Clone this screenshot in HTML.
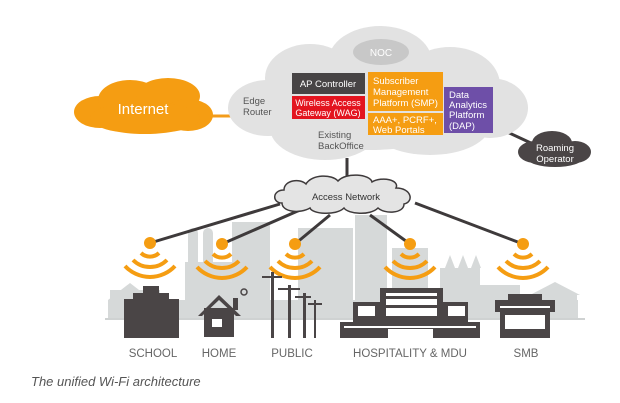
<!DOCTYPE html>
<html><head><meta charset="utf-8"><style>
html,body{margin:0;padding:0;background:#fff;}
svg{display:block;font-family:"Liberation Sans",sans-serif;}
</style></head><body>
<svg width="620" height="403" viewBox="0 0 620 403" xmlns="http://www.w3.org/2000/svg">
<g fill="#d6d9d9">
<rect x="108" y="300" width="470" height="20"/>
<polygon points="108,300 130,283 152,300"/>
<rect x="110" y="290" width="50" height="12"/>
<rect x="185" y="262" width="60" height="40"/>
<rect x="188" y="228" width="10" height="40" rx="5"/>
<rect x="203" y="228" width="10" height="40" rx="5"/>
<rect x="232" y="222" width="38" height="80"/>
<rect x="298" y="228" width="55" height="80"/>
<rect x="355" y="215" width="32" height="90"/>
<rect x="392" y="248" width="36" height="60"/>
<rect x="440" y="268" width="40" height="40"/>
<polygon points="445,268 450,255 455,268"/>
<polygon points="458,268 463,255 468,268"/>
<polygon points="471,268 476,255 481,268"/>
<rect x="480" y="285" width="40" height="20"/>
<polygon points="530,295 555,282 580,295"/>
<rect x="533" y="294" width="44" height="20"/>
</g>
<rect x="105" y="318" width="480" height="2" fill="#cfd2d2"/>

<g stroke="#3e3a3b" stroke-width="3" fill="none">
<line x1="347" y1="158" x2="347" y2="186"/>
<line x1="280" y1="204" x2="150" y2="243"/>
<line x1="300" y1="210" x2="222" y2="244"/>
<line x1="330" y1="215" x2="295" y2="244"/>
<line x1="370" y1="215" x2="410" y2="244"/>
<line x1="415" y1="203" x2="523" y2="244"/>
<line x1="505" y1="131" x2="533" y2="144"/>
</g>
<line x1="205" y1="116" x2="236" y2="116" stroke="#f39c1b" stroke-width="3"/>

<g fill="#f59d12">
<ellipse cx="100" cy="112" rx="26" ry="16"/>
<ellipse cx="130" cy="100" rx="32" ry="20"/>
<ellipse cx="168" cy="96" rx="32" ry="18"/>
<ellipse cx="188" cy="115" rx="25" ry="16"/>
<ellipse cx="145" cy="118" rx="55" ry="16"/>
</g>
<text x="143" y="114" font-size="15" fill="#fff" text-anchor="middle">Internet</text>

<g fill="#e2e2e2">
<ellipse cx="268" cy="108" rx="40" ry="28"/>
<ellipse cx="310" cy="78" rx="45" ry="34"/>
<ellipse cx="380" cy="62" rx="52" ry="36"/>
<ellipse cx="450" cy="85" rx="50" ry="38"/>
<ellipse cx="490" cy="108" rx="38" ry="30"/>
<ellipse cx="325" cy="128" rx="55" ry="32"/>
<ellipse cx="430" cy="125" rx="60" ry="30"/>
<ellipse cx="370" cy="110" rx="100" ry="40"/>
</g>
<ellipse cx="381" cy="52" rx="28" ry="13" fill="#c8c8c8"/>
<text x="381" y="56" font-size="10" fill="#fff" text-anchor="middle">NOC</text>
<g font-size="9.5" fill="#555">
<text x="243" y="104">Edge</text><text x="243" y="115">Router</text>
<text x="318" y="138">Existing</text><text x="318" y="149">BackOffice</text>
</g>
<rect x="292" y="73" width="73" height="21" fill="#474445"/>
<text x="328" y="87" font-size="9.5" fill="#fff" text-anchor="middle">AP Controller</text>
<rect x="292" y="96" width="73" height="23" fill="#e3141f"/>
<text x="328" y="106" font-size="9" fill="#fff" text-anchor="middle">Wireless Access</text>
<text x="328" y="116" font-size="9" fill="#fff" text-anchor="middle">Gateway (WAG)</text>
<rect x="368" y="72" width="75" height="39" fill="#f59d12"/>
<g font-size="9.5" fill="#fff"><text x="373" y="84">Subscriber</text><text x="373" y="95">Management</text><text x="373" y="106">Platform (SMP)</text></g>
<rect x="368" y="113" width="75" height="22" fill="#f59d12"/>
<g font-size="9.5" fill="#fff"><text x="373" y="123">AAA+, PCRF+,</text><text x="373" y="133">Web Portals</text></g>
<rect x="444" y="87" width="49" height="46" fill="#6e4fa8"/>
<g font-size="9.5" fill="#fff"><text x="449" y="98">Data</text><text x="449" y="108">Analytics</text><text x="449" y="118">Platform</text><text x="449" y="129">(DAP)</text></g>

<g fill="#4a4546">
<ellipse cx="535" cy="152" rx="17" ry="11"/>
<ellipse cx="552" cy="143" rx="20" ry="12"/>
<ellipse cx="575" cy="152" rx="16" ry="11"/>
<ellipse cx="555" cy="158" rx="28" ry="9"/>
</g>
<text x="555" y="151" font-size="9.5" fill="#fff" text-anchor="middle">Roaming</text>
<text x="555" y="162" font-size="9.5" fill="#fff" text-anchor="middle">Operator</text>

<g fill="#e4e4e4" stroke="#3e3a3b" stroke-width="1.5">
<path d="M282,203 C272,203 272,190 284,190 C284,180 300,178 306,184 C312,174 332,174 338,181 C346,172 370,174 372,182 C382,176 400,180 396,188 C412,188 414,202 404,204 C404,214 384,214 378,208 C370,216 348,214 344,208 C336,216 312,214 310,208 C300,214 282,212 282,203 Z"/>
</g>
<text x="346" y="200" font-size="9.5" fill="#333" text-anchor="middle">Access Network</text>

<g fill="#f59d12">
<circle cx="150" cy="243" r="6"/><circle cx="222" cy="244" r="6"/><circle cx="295" cy="244" r="6"/><circle cx="410" cy="244" r="6"/><circle cx="523" cy="244" r="6"/>
</g>
<g fill="none" stroke="#f59d12" stroke-width="4">
<g transform="translate(150,243)"><path d="M-9,10 A13,13 0 0 0 9,10"/><path d="M-17,17 A24,24 0 0 0 17,17"/><path d="M-25,23 A34,34 0 0 0 25,23"/></g>
<g transform="translate(222,244)"><path d="M-9,10 A13,13 0 0 0 9,10"/><path d="M-17,17 A24,24 0 0 0 17,17"/><path d="M-25,23 A34,34 0 0 0 25,23"/></g>
<g transform="translate(295,244)"><path d="M-9,10 A13,13 0 0 0 9,10"/><path d="M-17,17 A24,24 0 0 0 17,17"/><path d="M-25,23 A34,34 0 0 0 25,23"/></g>
<g transform="translate(410,244)"><path d="M-9,10 A13,13 0 0 0 9,10"/><path d="M-17,17 A24,24 0 0 0 17,17"/><path d="M-25,23 A34,34 0 0 0 25,23"/></g>
<g transform="translate(523,244)"><path d="M-9,10 A13,13 0 0 0 9,10"/><path d="M-17,17 A24,24 0 0 0 17,17"/><path d="M-25,23 A34,34 0 0 0 25,23"/></g>
</g>

<g fill="#4a4546">
<rect x="124" y="299" width="55" height="39"/>
<rect x="133" y="293" width="36" height="8"/>
<rect x="143" y="286" width="16" height="8"/>
<polygon points="198,316 219,295 241,316 236,316 219,300 202,316"/>
<rect x="204" y="308" width="30" height="29"/>
<rect x="233" y="298" width="5" height="12"/>
<rect x="212" y="319" width="10" height="8" fill="#fff"/>
<circle cx="244" cy="292" r="3" fill="none" stroke="#4a4546" stroke-width="1.5"/>
<rect x="271" y="272" width="3" height="66"/><rect x="262" y="276" width="20" height="2"/>
<rect x="288" y="285" width="3" height="53"/><rect x="278" y="288" width="22" height="2"/>
<rect x="303" y="293" width="3" height="45"/><rect x="295" y="296" width="16" height="2"/>
<rect x="314" y="300" width="2" height="38"/><rect x="308" y="303" width="14" height="2"/>
<rect x="380" y="288" width="63" height="50"/>
<rect x="353" y="302" width="115" height="36"/>
<rect x="340" y="322" width="140" height="16"/>
<rect x="500" y="304" width="50" height="34"/>
<rect x="495" y="300" width="60" height="12"/>
<rect x="508" y="294" width="34" height="8"/>
</g>
<g fill="#fff">
<rect x="386" y="293" width="51" height="3"/>
<rect x="386" y="299" width="51" height="6"/><rect x="386" y="308" width="51" height="8"/>
<rect x="358" y="306" width="17" height="10"/><rect x="448" y="306" width="17" height="10"/>
<rect x="344" y="326" width="132" height="2"/>
<rect x="388" y="329" width="45" height="9"/>
<rect x="505" y="315" width="40" height="14"/>
<rect x="500" y="306" width="50" height="2"/>
</g>

<g font-size="11.5" fill="#666" text-anchor="middle">
<text x="153" y="357">SCHOOL</text>
<text x="219" y="357">HOME</text>
<text x="292" y="357">PUBLIC</text>
<text x="410" y="357">HOSPITALITY &amp; MDU</text>
<text x="526" y="357">SMB</text>
</g>
<text x="31" y="386" font-size="13" font-style="italic" fill="#555">The unified Wi-Fi architecture</text>
</svg>
</body></html>
